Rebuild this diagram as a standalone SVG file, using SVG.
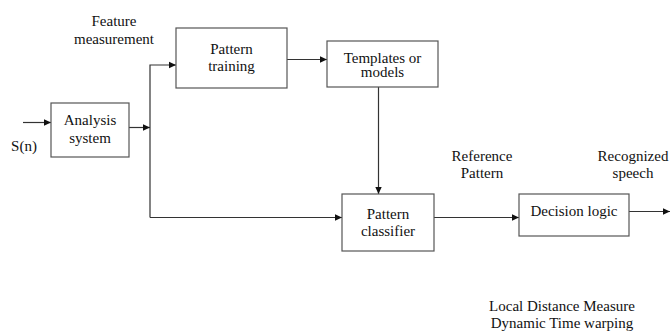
<svg xmlns="http://www.w3.org/2000/svg" width="670" height="331" viewBox="0 0 670 331">
<style>
.box{fill:#fff;stroke:#555;stroke-width:1.2}
.ln{fill:none;stroke:#333;stroke-width:1.2}
.t{font-size:15px;fill:#111;text-anchor:middle}
</style>
<defs>
<marker id="ah" markerWidth="8" markerHeight="8" refX="7" refY="4" orient="auto" markerUnits="userSpaceOnUse">
<path d="M0,0.8 L7,4 L0,7.2 Z" fill="#111"/>
</marker>
</defs>
<rect width="670" height="331" fill="#fff"/>
<g id="connectors">
<path class="ln" d="M23,122.5 H51" marker-end="url(#ah)"/>
<path class="ln" d="M129,127.5 H150" marker-end="url(#ah)"/>
<path class="ln" d="M150,217.5 V65 H176" marker-end="url(#ah)"/>
<path class="ln" d="M150,217.5 H342" marker-end="url(#ah)"/>
<path class="ln" d="M287,59.5 H327" marker-end="url(#ah)"/>
<path class="ln" d="M378.5,87 V194" marker-end="url(#ah)"/>
<path class="ln" d="M434,217.5 H519" marker-end="url(#ah)"/>
<path class="ln" d="M629,211.5 H670" marker-end="url(#ah)"/>
</g>
<g font-family="Liberation Serif, Times New Roman, serif">
<g id="analysis">
<rect class="box" x="51" y="103" width="78" height="54"/>
<text class="t" x="90" y="125">Analysis</text>
<text class="t" x="90" y="143">system</text>
</g>
<g id="training">
<rect class="box" x="176" y="28" width="111" height="60"/>
<text class="t" x="231.5" y="54">Pattern</text>
<text class="t" x="231.5" y="71">training</text>
</g>
<g id="templates">
<rect class="box" x="327" y="41" width="111" height="46"/>
<text class="t" x="382.5" y="62.5">Templates or</text>
<text class="t" x="382.5" y="77">models</text>
</g>
<g id="classifier">
<rect class="box" x="342" y="194" width="92" height="57"/>
<text class="t" x="388" y="219">Pattern</text>
<text class="t" x="388" y="236">classifier</text>
</g>
<g id="decision">
<rect class="box" x="519" y="194" width="110" height="42"/>
<text class="t" x="574" y="216">Decision logic</text>
</g>
<g id="labels">
<text class="t" x="24" y="151">S(n)</text>
<text class="t" x="114" y="26">Feature</text>
<text class="t" x="114" y="44">measurement</text>
<text class="t" x="482" y="161">Reference</text>
<text class="t" x="482" y="178">Pattern</text>
<text class="t" x="633" y="161">Recognized</text>
<text class="t" x="633" y="178">speech</text>
<text class="t" x="562" y="311">Local Distance Measure</text>
<text class="t" x="562" y="328">Dynamic Time warping</text>
</g>
</g>
</svg>
